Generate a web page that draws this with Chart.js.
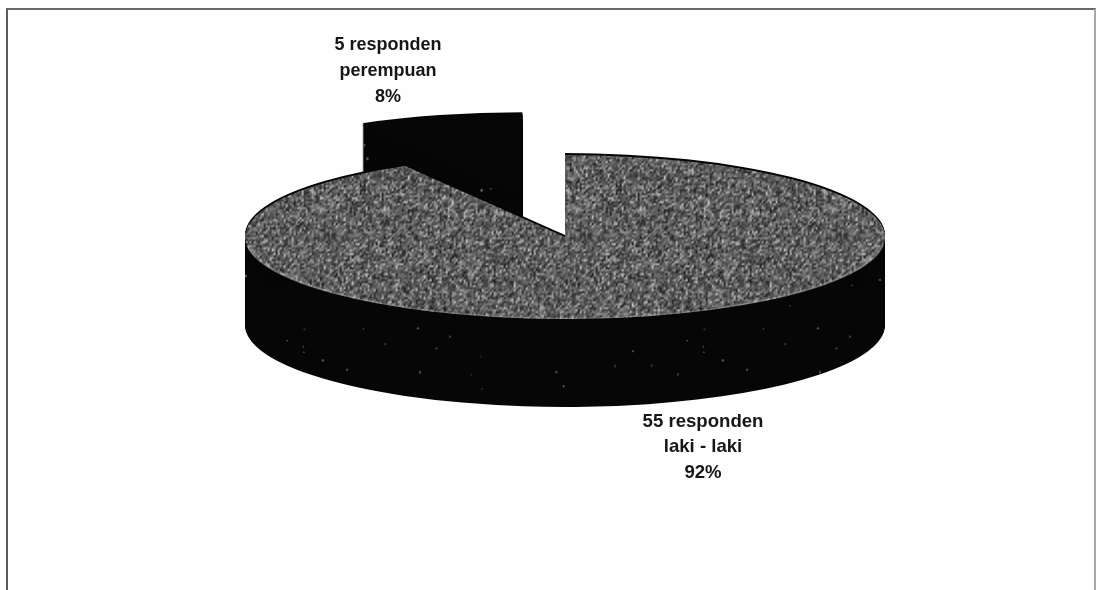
<!DOCTYPE html>
<html>
<head>
<meta charset="utf-8">
<title>Responden</title>
<script src="https://cdn.jsdelivr.net/npm/chart.js@4"></script>
<style>
    html, body { margin: 0; padding: 0; background: #fefefe; overflow: hidden; }
    #wrap { position: relative; width: 1096px; height: 590px; }
    #frame {
        position: absolute; left: 6px; top: 8px; width: 1086px; height: 600px;
        border-left: 2px solid #5a5a5a; border-top: 2px solid #6a6a6a; border-right: 2px solid #a8a8a8;
    }
    canvas { position: absolute; left: 0; top: 0; }
</style>
</head>
<body>
<div id="wrap">
    <div id="frame"></div>
    <canvas id="chart-pie" width="1096" height="590"></canvas>
</div>
<script>
const categories = ['perempuan', 'laki - laki']
const respondents = [5, 55]
const total = respondents.reduce((a, b) => a + b, 0)

// pie tilt and extrusion
const TILT = 0.256
const DEPTH = 88
const RADIUS = 320
const CENTER_Y = 237
const EXPLODE = [165, 0]

// small seeded generator so the texture is the same on every load
function seeded(seed) {
    let s = seed
    return function () {
        s = (s + 0x6D2B79F5) | 0
        let t = Math.imul(s ^ (s >>> 15), 1 | s)
        t = (t + Math.imul(t ^ (t >>> 7), 61 | t)) ^ t
        return ((t ^ (t >>> 14)) >>> 0) / 4294967296
    }
}

// speckled grey for the top face
function grainPattern(ctx) {
    const size = 256
    const tile = document.createElement('canvas')
    tile.width = tile.height = size
    const tileCtx = tile.getContext('2d')
    const img = tileCtx.createImageData(size, size)
    const next = seeded(7)
    // clumps of two pixels wide give a coarser grain than single pixels
    const cell = new Float32Array((size / 2) * (size / 2))
    for (let i = 0; i < cell.length; i++) {
        cell[i] = 84 + (next() + next() - 1) * 62 + (next() < 0.2 ? 62 : 0)
    }
    for (let y = 0; y < size; y++) {
        for (let x = 0; x < size; x++) {
            const cx = x >> 1
            const cy = y >> 1
            const right = cell[cy * (size / 2) + ((cx + 1) % (size / 2))]
            const down = cell[((cy + 1) % (size / 2)) * (size / 2) + cx]
            const here = cell[cy * (size / 2) + cx]
            const v = (x & 1 ? (here + right) / 2 : here) * 0.7 + (y & 1 ? down : here) * 0.3
            const i = (y * size + x) * 4
            img.data[i] = img.data[i + 1] = img.data[i + 2] = v
            img.data[i + 3] = 255
        }
    }
    tileCtx.putImageData(img, 0, 0)

    const pattern = ctx.createPattern(tile, 'repeat')
    pattern.setTransform(new DOMMatrix().scale(1, 1 / TILT))
    return pattern
}

// sparse light dust on the black walls
function dustPattern(ctx) {
    const size = 400
    const tile = document.createElement('canvas')
    tile.width = tile.height = size
    const tileCtx = tile.getContext('2d')
    const next = seeded(21)
    tileCtx.filter = 'blur(0.5px)'
    for (let i = 0; i < 110; i++) {
        tileCtx.fillStyle = `rgba(170,170,170,${0.2 + next() * 0.5})`
        tileCtx.fillRect(next() * size, next() * size, 1 + next() * 1.5, 1 + next() * 2)
    }
    return ctx.createPattern(tile, 'repeat')
}

const tiltedPie = {
    id: 'tiltedPie',
    afterDatasetsUpdate(chart) {
        // pull the exploded slice out along its middle angle
        chart.getDatasetMeta(0).data.forEach((arc, i) => {
            const mid = (arc.startAngle + arc.endAngle) / 2
            arc.x += Math.cos(mid) * EXPLODE[i]
            arc.y += Math.sin(mid) * EXPLODE[i]
        })
    },
    beforeDatasetsDraw(chart) {
        const ctx = chart.ctx
        const arcs = chart.getDatasetMeta(0).data
        const originY = (chart.chartArea.top + chart.chartArea.bottom) / 2

        ctx.save()
        ctx.translate(0, CENTER_Y - originY * TILT)
        ctx.scale(1, TILT)

        arcs.forEach((arc) => {
            const wall = Object.create(arc)
            wall.options = Object.assign({}, arc.options, { backgroundColor: '#060606', borderWidth: 0 })
            // start slightly above the face so it keeps a dark rim
            for (let d = -2; d <= DEPTH; d++) {
                ctx.save()
                ctx.translate(0, d / TILT)
                wall.draw(ctx)
                ctx.restore()
            }
        })

        ctx.save()
        ctx.setTransform(1, 0, 0, 1, 0, 0)
        ctx.globalCompositeOperation = 'source-atop'
        ctx.fillStyle = dustPattern(ctx)
        ctx.fillRect(0, 0, chart.width, chart.height)
        ctx.restore()
    },
    afterDatasetsDraw(chart) {
        const ctx = chart.ctx

        // pale lip along the front edge of the top face
        const main = chart.getDatasetMeta(0).data[1]
        ctx.beginPath()
        ctx.arc(main.x, main.y, main.outerRadius - 2, 0.1, Math.PI - 0.1)
        ctx.lineWidth = 5
        ctx.strokeStyle = 'rgba(200,200,200,0.3)'
        ctx.stroke()
        ctx.restore()

        ctx.fillStyle = '#161616'
        ctx.textAlign = 'center'
        ctx.textBaseline = 'middle'
        const anchors = [[388, [45, 71, 97], 18], [703, [422, 447, 473], 18.6]]
        categories.forEach((name, i) => {
            const [x, ys, size] = anchors[i]
            ctx.font = `bold ${size}px "Liberation Sans"`
            const lines = [
                respondents[i] + ' responden',
                name,
                Math.round(respondents[i] / total * 100) + '%',
            ]
            lines.forEach((line, j) => ctx.fillText(line, x, ys[j]))
        })
    },
}

const canvas = document.querySelector('#chart-pie')

new Chart(canvas, {
    type: 'pie',
    plugins: [tiltedPie],
    data: {
        labels: categories,
        datasets: [{
            data: respondents,
            backgroundColor: ['#060606', grainPattern(canvas.getContext('2d'))],
            borderWidth: 0,
            clip: false,
        }]
    },
    options: {
        responsive: false,
        animation: false,
        radius: RADIUS,
        rotation: -30,
        layout: { padding: { left: 34 } },
        plugins: {
            legend: { display: false },
            tooltip: { enabled: false },
        },
    }
});
</script>
</body>
</html>
